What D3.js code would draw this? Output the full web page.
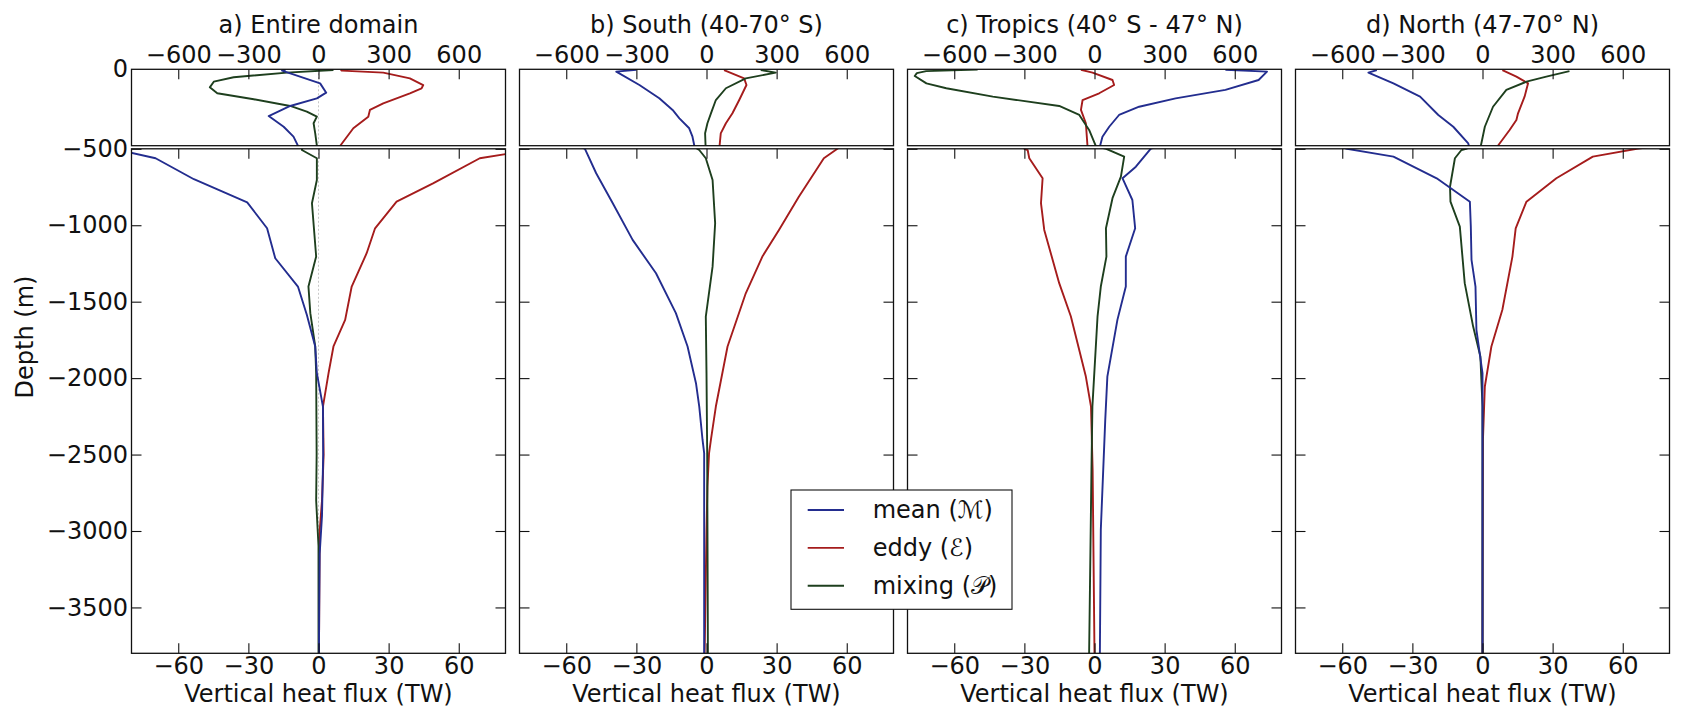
<!DOCTYPE html>
<html><head><meta charset="utf-8">
<script src="https://cdn.jsdelivr.net/npm/d3@7"></script>
<style>
body{margin:0;background:#fff}
svg{display:block}
text{font-family:"DejaVu Sans",sans-serif;fill:#111}
</style>
</head><body>
<svg id="c" width="1687" height="708"></svg>
<script>
// ---------------- DATA ----------------
const panelTitles = ["a) Entire domain", "b) South (40-70\u00b0 S)", "c) Tropics (40\u00b0 S - 47\u00b0 N)", "d) North (47-70\u00b0 N)"];
const topTicks = [-600, -300, 0, 300, 600];
const bottomTicks = [-60, -30, 0, 30, 60];
const depthTicks = [-500, -1000, -1500, -2000, -2500, -3000, -3500];
const seriesNames = ["mean", "eddy", "mixing"];
const legendLabels = ["mean (\u2133)", "eddy (\u2130)", "mixing (\ud835\udcab)"];
const xLabel = "Vertical heat flux (TW)";
const yLabel = "Depth (m)";

// [depth (m), vertical heat flux (TW)]
const meanA = [[0,-140],[-9,-156],[-92,7],[-153,33],[-190,-7],[-240,-121],[-306,-213],[-376,-149],[-441,-107],[-500,-88],[-562,-69.7],[-699,-53.3],[-850,-30.5],[-1020,-22],[-1216,-18.5],[-1401,-8.8],[-1586,-5],[-1793,-1.4],[-1967,-0.7],[-2186,1.9],[-2500,2.0],[-2900,1.5],[-3150,0.5],[-3500,0.3],[-3800,0.2]];
const eddyA = [[-3,95],[-9,100],[-22,277],[-59,391],[-103,448],[-125,441],[-157,391],[-223,277],[-266,220],[-310,213],[-386,149],[-500,93],[-535,80],[-562,69],[-726,49],[-846,33.4],[-1020,24.2],[-1183,20.6],[-1401,14.2],[-1619,11.4],[-1793,6.4],[-1967,4.3],[-2186,1.9],[-2500,2.2],[-2800,1.5],[-3000,0.5],[-3800,0.2]];
const mixA = [[-5,64],[-22,-135],[-52,-363],[-81,-448],[-118,-465],[-157,-433],[-196,-277],[-240,-121],[-277,-50],[-310,-7],[-353,-21],[-419,-14],[-500,-7],[-508,-7.1],[-562,-0.7],[-704,-0.7],[-856,-2.8],[-1205,-1.0],[-1401,-4.3],[-1575,-3.5],[-1793,-1.4],[-1967,-1.0],[-2500,-0.8],[-2800,-1.0],[-3100,0],[-3800,0]];

const meanB = [[-3,-300],[-15,-386],[-103,-287],[-190,-202],[-266,-145],[-321,-116],[-386,-74],[-441,-60],[-500,-52],[-660,-47.2],[-856,-40.1],[-1096,-31.6],[-1314,-21.6],[-1575,-13.1],[-1793,-8.1],[-2033,-4.5],[-2186,-3.1],[-2403,-1.7],[-2490,-1.0],[-3800,-1.0]];
const eddyB = [[-5,75],[-59,161],[-103,171],[-201,140],[-288,111],[-353,83],[-419,61],[-500,56],[-562,50.2],[-813,39.5],[-1031,31],[-1205,23.9],[-1445,16.8],[-1793,9],[-2186,4],[-2403,1.9],[-2490,1.1],[-2708,0.4],[-3000,0],[-3800,-0.8]];
const mixB = [[-5,232],[-22,296],[-59,168],[-124,83],[-201,40],[-288,19],[-353,4],[-419,-6],[-500,-4],[-508,-3.1],[-562,-0.3],[-704,2.6],[-987,3.7],[-1271,2.6],[-1597,-0.3],[-1967,0],[-2500,0.3],[-3800,0.6]];

const meanC = [[-3,560],[-15,738],[-70,702],[-135,560],[-190,347],[-245,191],[-299,105],[-376,63],[-441,34],[-500,24],[-617,17.7],[-693,12],[-835,16.2],[-1020,17.4],[-1205,13.4],[-1401,13.4],[-1619,9.8],[-1990,5.5],[-2273,4.6],[-2991,2.7],[-3800,2.3]];
const eddyC = [[-3,-58],[-22,-8.5],[-70,77],[-103,84],[-157,20],[-201,-51],[-266,-58],[-353,-37],[-500,-30],[-508,-28.6],[-562,-27.9],[-693,-22.2],[-856,-22.9],[-1031,-21.5],[-1379,-15.1],[-1597,-10.1],[-1990,-3.7],[-2186,-1.5],[-2600,-0.8],[-3800,0]];
const mixC = [[-2,-500],[-12,-720],[-25,-760],[-44,-769],[-92,-719],[-124,-634],[-179,-435],[-240,-151],[-299,-65],[-397,-23],[-500,5],[-551,12.7],[-682,11.3],[-823,7.7],[-1020,4.9],[-1205,5.1],[-1401,2.7],[-1597,1.3],[-2186,-0.9],[-2600,-1.3],[-3800,-2.3]];

const meanD = [[-5,-452],[-22,-488],[-92,-381],[-179,-267],[-299,-189],[-376,-125],[-485,-61],[-500,-58],[-551,-38.1],[-693,-19.6],[-846,-5.4],[-1009,-5],[-1227,-4.7],[-1401,-3],[-1684,-2.6],[-1967,0],[-3800,0]];
const eddyD = [[-5,85],[-48,145],[-92,195],[-179,180],[-288,152],[-332,145],[-397,116],[-500,66],[-551,47.2],[-693,31.6],[-846,18.8],[-1020,14.2],[-1205,12.8],[-1553,8.5],[-1793,3.8],[-2055,1],[-2400,0.2],[-3800,0]];
const mixD = [[-12,372],[-48,273],[-81,188],[-135,102],[-245,45],[-376,10],[-500,-7],[-508,-9],[-562,-11.8],[-748,-13.9],[-846,-13.7],[-1009,-9.7],[-1379,-7.6],[-1663,-4],[-1859,-0.9],[-2186,0],[-3800,0]];

// ---------------- LAYOUT / STYLE ----------------
const colors = {mean:"#232d8f", eddy:"#a51c1c", mixing:"#1e3f1e"};
const panelData = [
  {mean:meanA, eddy:eddyA, mixing:mixA},
  {mean:meanB, eddy:eddyB, mixing:mixB},
  {mean:meanC, eddy:eddyC, mixing:mixC},
  {mean:meanD, eddy:eddyD, mixing:mixD}
];
const left0 = 131.5, step = 388, pw = 374;
const topY = [69.3, 145.7], botY = [148.8, 653.3];
const FS = 24;
const fmt = d => d < 0 ? "\u2212" + Math.abs(d) : String(d);

const svg = d3.select("#c");
svg.append("rect").attr("width",1687).attr("height",708).attr("fill","#fff");
const defs = svg.append("defs");

function styleAxis(g, labels) {
  g.select(".domain").remove();
  g.selectAll(".tick line").attr("stroke","#111").attr("stroke-width",1.1);
  g.selectAll(".tick text").attr("font-size",FS).attr("font-family","DejaVu Sans").attr("fill","#111");
  if (!labels) g.selectAll(".tick text").remove();
}

panelData.forEach((p, i) => {
  const L = left0 + i*step, R = L + pw;
  const xT = d3.scaleLinear().domain([-800, 800]).range([L, R]);
  const xB = d3.scaleLinear().domain([-80, 80]).range([L, R]);
  const yT = d3.scaleLinear().domain([0, -500]).range(topY);
  const yB = d3.scaleLinear().domain([-500, -3800]).range(botY);

  defs.append("clipPath").attr("id","ct"+i).append("rect")
    .attr("x",L).attr("y",topY[0]).attr("width",pw).attr("height",topY[1]-topY[0]);
  defs.append("clipPath").attr("id","cb"+i).append("rect")
    .attr("x",L).attr("y",botY[0]).attr("width",pw).attr("height",botY[1]-botY[0]);

  const gT = svg.append("g").attr("clip-path","url(#ct"+i+")");
  const gB = svg.append("g").attr("clip-path","url(#cb"+i+")");

  if (i === 0) {
    gT.append("line").attr("x1",xT(0)).attr("x2",xT(0)).attr("y1",topY[0]).attr("y2",topY[1])
      .attr("stroke","#c8c8c8").attr("stroke-width",1).attr("stroke-dasharray","2,2");
    gB.append("line").attr("x1",xB(0)).attr("x2",xB(0)).attr("y1",botY[0]).attr("y2",botY[1])
      .attr("stroke","#c8c8c8").attr("stroke-width",1).attr("stroke-dasharray","2,2");
  }

  const lineT = d3.line().x(d => xT(d[1])).y(d => yT(d[0]));
  const lineB = d3.line().x(d => xB(d[1])).y(d => yB(d[0]));
  ["eddy","mixing","mean"].forEach(s => {
    gT.append("path").datum(p[s]).attr("d", lineT).attr("fill","none")
      .attr("stroke", colors[s]).attr("stroke-width",1.9).attr("stroke-linejoin","round");
    gB.append("path").datum(p[s]).attr("d", lineB).attr("fill","none")
      .attr("stroke", colors[s]).attr("stroke-width",1.9).attr("stroke-linejoin","round");
  });

  // top panel: top axis with labels
  svg.append("g").attr("transform",`translate(0,${topY[0]})`)
    .call(d3.axisTop(xT).tickValues(topTicks).tickSize(-10).tickPadding(6).tickFormat(fmt))
    .call(g => styleAxis(g, true));
  // bottom panel: top ticks (no labels)
  svg.append("g").attr("transform",`translate(0,${botY[0]})`)
    .call(d3.axisTop(xB).tickValues(bottomTicks).tickSize(-10))
    .call(g => styleAxis(g, false));
  // bottom panel: bottom axis with labels
  svg.append("g").attr("transform",`translate(0,${botY[1]})`)
    .call(d3.axisBottom(xB).tickValues(bottomTicks).tickSize(-10).tickPadding(4).tickFormat(fmt))
    .call(g => styleAxis(g, true));
  // left / right depth ticks
  svg.append("g").attr("transform",`translate(${L},0)`)
    .call(d3.axisLeft(yB).tickValues(depthTicks).tickSize(-10).tickPadding(3.5).tickFormat(fmt))
    .call(g => styleAxis(g, i === 0));
  svg.append("g").attr("transform",`translate(${R},0)`)
    .call(d3.axisRight(yB).tickValues(depthTicks).tickSize(-10))
    .call(g => styleAxis(g, false));
  if (i === 0) {
    svg.append("g").attr("transform",`translate(${L},0)`)
      .call(d3.axisLeft(yT).tickValues([0]).tickSize(0).tickPadding(3.5).tickFormat(fmt))
      .call(g => styleAxis(g, true));
  }

  // frames
  svg.append("rect").attr("x",L).attr("y",topY[0]).attr("width",pw).attr("height",topY[1]-topY[0])
    .attr("fill","none").attr("stroke","#111").attr("stroke-width",1.3);
  svg.append("rect").attr("x",L).attr("y",botY[0]).attr("width",pw).attr("height",botY[1]-botY[0])
    .attr("fill","none").attr("stroke","#111").attr("stroke-width",1.3);

  // title and x label
  svg.append("text").attr("x",(L+R)/2).attr("y",33.3).attr("text-anchor","middle")
    .attr("font-size",FS).text(panelTitles[i]);
  svg.append("text").attr("x",(L+R)/2).attr("y",702).attr("text-anchor","middle")
    .attr("font-size",FS).text(xLabel);
});

// y label
svg.append("text").attr("transform","translate(32.5,337) rotate(-90)").attr("text-anchor","middle")
  .attr("font-size",FS).text(yLabel);

// legend
const lg = svg.append("g");
lg.append("rect").attr("x",791).attr("y",490).attr("width",221).attr("height",119.3)
  .attr("fill","#fff").attr("stroke","#111").attr("stroke-width",1.1);
const rowY = d3.scalePoint().domain(seriesNames).range([510, 585.7]);
seriesNames.forEach((s, k) => {
  lg.append("line").attr("x1",807.7).attr("x2",844).attr("y1",rowY(s)).attr("y2",rowY(s))
    .attr("stroke",colors[s]).attr("stroke-width",1.9);
  lg.append("text").attr("x",872.7).attr("y",rowY(s)).attr("dy","0.35em")
    .attr("font-size",FS).text(legendLabels[k]);
});
</script>
</body></html>
